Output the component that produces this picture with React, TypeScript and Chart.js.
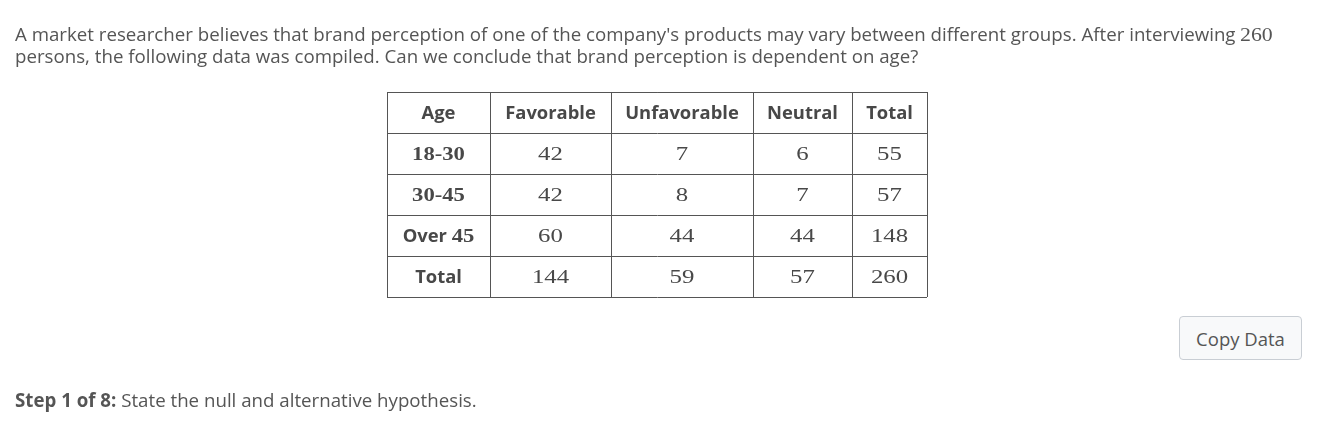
import React, { useEffect, useRef } from 'react';
import { Chart, registerables } from 'chart.js';

Chart.register(...registerables);

// ---- data ----
const columns = ['Age', 'Favorable', 'Unfavorable', 'Neutral', 'Total'];
const ageGroups = ['18-30', '30-45', 'Over 45', 'Total'];
const favorable = [42, 42, 60, 144];
const unfavorable = [7, 8, 44, 59];
const neutral = [6, 7, 44, 57];
const totals = [55, 57, 148, 260];

// ---- layout (not data) ----
const PAGE_W = 1324;
const PAGE_H = 442;
const colWidths = [103, 121, 142, 99, 75];
const TABLE_LEFT = 387;
const TABLE_TOP = 92;
const ROW_H = 41;
const ROWS = ageGroups.length + 1;
const TABLE_W = colWidths.reduce((a, b) => a + b, 0);
const TABLE_H = ROWS * ROW_H;
const colEdges = colWidths.reduce<number[]>((acc, w) => { acc.push(acc[acc.length - 1] + w); return acc; }, [0]);

const SANS = '"Open Sans", "Noto Sans", sans-serif';
const SERIF = '"Liberation Serif", "Times New Roman", serif';
const TEXT = '#555555';
const TABLE_TEXT = '#484848';
const LINE = '#555555';
const SANS_SIZE = 18.4;
const SERIF_SIZE = 19.7;

function drawMixed(ctx: CanvasRenderingContext2D, label: string, cx: number, baseline: number, bold: boolean) {
  const parts = label.split(/(\d[\d-]*)/).filter((p) => p.length > 0);
  const w = bold ? 'bold ' : '';
  const isNum = parts.map((p) => /^\d/.test(p));
  const fonts = parts.map((p, i) => (isNum[i] ? `${w}${SERIF_SIZE}px ${SERIF}` : `${w}${SANS_SIZE}px ${SANS}`));
  const sx = parts.map((p, i) => (isNum[i] ? (bold ? 1.15 : 1.26) : 1));
  let total = 0;
  const widths = parts.map((p, i) => { ctx.font = fonts[i]; const m = ctx.measureText(p).width * sx[i]; total += m; return m; });
  let x = cx - total / 2;
  ctx.textAlign = 'left';
  ctx.textBaseline = 'alphabetic';
  parts.forEach((p, i) => {
    ctx.save();
    ctx.font = fonts[i];
    ctx.translate(x, baseline);
    ctx.scale(sx[i], 1);
    ctx.fillText(p, 0, 0);
    ctx.restore();
    x += widths[i];
  });
}

const tableTextPlugin = {
  id: 'tableText',
  afterDraw(chart: any) {
    const { ctx, scales } = chart;
    const xs = scales.x;
    const ys = scales.y;
    ctx.save();
    ctx.fillStyle = TABLE_TEXT;
    const colCenter = (c: number) => xs.getPixelForValue(colEdges[c] + colWidths[c] / 2);
    const rowBase = (r: number) => ys.getPixelForValue(r + 0.5) + 6.5;
    columns.forEach((h, c) => drawMixed(ctx, h, colCenter(c), rowBase(0), true));
    const series = [favorable, unfavorable, neutral, totals];
    ageGroups.forEach((g, r) => {
      drawMixed(ctx, g, colCenter(0), rowBase(r + 1), true);
      series.forEach((s, k) => drawMixed(ctx, String(s[r]), colCenter(k + 1), rowBase(r + 1), false));
    });
    ctx.restore();
  },
};

function TableChart() {
  const ref = useRef<HTMLCanvasElement | null>(null);
  useEffect(() => {
    if (!ref.current) return;
    const gridOpts = { color: LINE, lineWidth: 1, drawTicks: false };
    const chart = new Chart(ref.current, {
      type: 'scatter',
      data: { datasets: [{ data: [], pointRadius: 0 }] },
      options: {
        animation: false,
        responsive: false,
        devicePixelRatio: 1,
        events: [],
        layout: {
          padding: {
            left: TABLE_LEFT,
            top: TABLE_TOP,
            right: PAGE_W - TABLE_LEFT - TABLE_W,
            bottom: PAGE_H - TABLE_TOP - TABLE_H,
          },
        },
        plugins: { legend: { display: false }, tooltip: { enabled: false }, title: { display: false } },
        scales: {
          x: {
            type: 'linear', position: 'top', min: 0, max: TABLE_W,
            grid: gridOpts, border: { display: true, color: LINE, width: 1 },
            ticks: { display: false },
            afterBuildTicks: (s: any) => { s.ticks = colEdges.map((v) => ({ value: v })); },
          },
          y: {
            type: 'linear', position: 'left', min: 0, max: ROWS, reverse: true,
            grid: gridOpts, border: { display: true, color: LINE, width: 1 },
            ticks: { display: false },
            afterBuildTicks: (s: any) => { s.ticks = Array.from({ length: ROWS + 1 }, (_, i) => ({ value: i })); },
          },
        },
      } as any,
      plugins: [tableTextPlugin],
    });
    return () => chart.destroy();
  }, []);
  return (
    <canvas ref={ref} width={PAGE_W} height={PAGE_H}
      style={{ position: 'absolute', left: 0, top: 0, width: PAGE_W, height: PAGE_H }} />
  );
}

export default function App() {
  const prose: React.CSSProperties = {
    position: 'absolute', left: 15, fontFamily: SANS, fontSize: 18.7, lineHeight: '21.5px',
    color: TEXT, whiteSpace: 'pre', margin: 0,
  };
  return (
    <div style={{ position: 'fixed', left: 0, top: 0, width: PAGE_W, height: PAGE_H, background: '#fff', overflow: 'hidden' }}>
      <TableChart />
      <div style={{ ...prose, top: 22.5 }}>
        {"A market researcher believes that brand perception of one of the company's products may vary between different groups. After interviewing "}
        <span style={{ display: 'inline-block', fontFamily: SERIF, fontSize: 19.5, width: 33, transform: 'scaleX(1.12)', transformOrigin: 'left' }}>260</span>
        <br />
        {"persons, the following data was compiled. Can we conclude that brand perception is dependent on age?"}
      </div>
      <div style={{ ...prose, top: 389 }}>
        <b>Step 1 of 8:</b>{" State the null and alternative hypothesis."}
      </div>
      <div style={{
        position: 'absolute', left: 1179, top: 316, width: 123, height: 44, boxSizing: 'border-box',
        border: '1px solid #c9ced4', borderRadius: 4, background: '#f8f9fa', color: TEXT,
        fontFamily: SANS, fontSize: 18.5, display: 'flex', alignItems: 'center', justifyContent: 'center',
      }}>
        Copy Data
      </div>
    </div>
  );
}
